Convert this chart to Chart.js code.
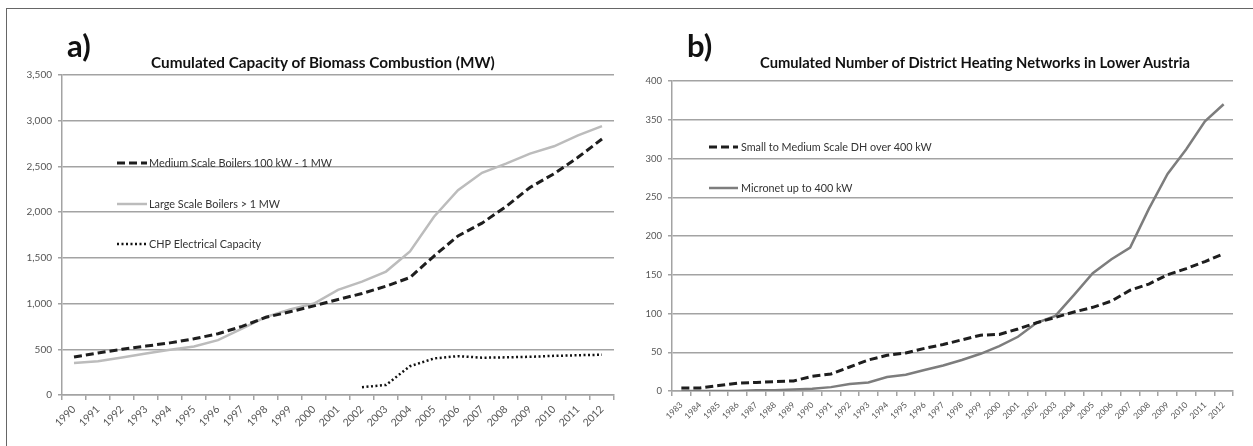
<!DOCTYPE html>
<html><head><meta charset="utf-8">
<script src="https://cdn.jsdelivr.net/npm/chart.js@4"></script>
<style>
html,body{margin:0;padding:0;background:#fff;width:1253px;height:446px;overflow:hidden;position:relative;}
#frame{position:absolute;left:6px;top:8px;width:1300px;height:500px;border:1.5px solid #666;box-sizing:border-box;}
.lbl{position:absolute;font-family:Lato,"Open Sans",sans-serif;font-weight:bold;color:#111;white-space:nowrap;line-height:1;}
canvas{position:absolute;top:0;}
</style></head><body>
<div id="frame"></div>
<canvas id="cA" width="625" height="446" style="left:0px"></canvas>
<canvas id="cB" width="628" height="446" style="left:625px"></canvas>
<div class="lbl" id="tagA" style="left:67px;top:30px;font-size:31px">a)</div>
<div class="lbl" id="titleA" style="left:151px;top:55px;font-size:14px">Cumulated Capacity of Biomass Combustion (MW)</div>
<div class="lbl" id="tagB" style="left:687px;top:30px;font-size:31px">b)</div>
<div class="lbl" id="titleB" style="left:760px;top:55px;font-size:14px">Cumulated Number of District Heating Networks in Lower Austria</div>
<script>
// ---- data: chart a ----
const yearsA = ['1990','1991','1992','1993','1994','1995','1996','1997','1998','1999','2000','2001','2002','2003','2004','2005','2006','2007','2008','2009','2010','2011','2012'];
const mediumBoilers = [415,460,500,535,570,615,670,750,850,910,975,1045,1110,1190,1285,1520,1740,1880,2060,2270,2420,2600,2800];
const largeBoilers  = [350,370,410,455,495,530,600,725,855,935,1000,1150,1240,1350,1570,1950,2240,2430,2530,2640,2720,2840,2940];
const chpCapacity   = [null,null,null,null,null,null,null,null,null,null,null,null,85,110,315,400,425,408,412,418,428,435,440];
const yTicksA = [0,500,1000,1500,2000,2500,3000,3500];
// ---- data: chart b ----
const yearsB = ['1983','1984','1985','1986','1987','1988','1989','1990','1991','1992','1993','1994','1995','1996','1997','1998','1999','2000','2001','2002','2003','2004','2005','2006','2007','2008','2009','2010','2011','2012'];
const smallMediumDH = [4,4,7,10,11,12,13,19,22,31,40,46,49,55,60,66,72,73,80,88,95,102,108,116,130,138,150,158,167,177];
const micronet      = [0,0,0,0,1,1,2,3,5,9,11,18,21,27,33,40,48,58,70,88,97,124,152,170,185,235,280,312,348,370];
const yTicksB = [0,50,100,150,200,250,300,350,400];

const FONT = 'Lato, "Open Sans", sans-serif';
const GRID = '#a3a3a3';

// fit title widths to the reference
function fitWidth(id, target){
  const el = document.getElementById(id);
  const s = parseFloat(el.style.fontSize);
  const w = el.getBoundingClientRect().width;
  if (w > 0) el.style.fontSize = (s*target/w).toFixed(2)+'px';
}
fitWidth('titleA', 344);
fitWidth('titleB', 430);

const inlineLegend = {
  id:'inlineLegend',
  afterDraw(chart, args, o){
    const ctx = chart.ctx;
    ctx.save();
    ctx.font = '10px '+FONT;
    const w0 = ctx.measureText(chart.data.datasets[0].label).width;
    const size = 10*o.fitWidth/w0;
    chart.data.datasets.forEach((ds,i)=>{
      const y = o.rows[i];
      ctx.strokeStyle = ds.borderColor; ctx.lineWidth = ds.borderWidth;
      ctx.setLineDash(ds.borderDash || []);
      ctx.beginPath(); ctx.moveTo(o.x0,y); ctx.lineTo(o.x1,y); ctx.stroke();
      ctx.setLineDash([]);
      ctx.fillStyle = '#333'; ctx.font = size.toFixed(2)+'px '+FONT; ctx.textBaseline = 'middle';
      ctx.fillText(ds.label, o.tx, y+0.5);
    });
    ctx.restore();
  }
};

function makeChart(id, labels, datasets, ticks, cfg){
  return new Chart(document.getElementById(id), {
    type:'line',
    data:{labels, datasets},
    plugins:[inlineLegend],
    options:{
      responsive:false, animation:false, devicePixelRatio:1,
      layout:{padding:{left:0,right:cfg.padRight,top:cfg.padTop,bottom:0}},
      elements:{point:{radius:0},line:{tension:0,borderCapStyle:'butt'}},
      plugins:{legend:{display:false},title:{display:false},tooltip:{enabled:false},
        inlineLegend:cfg.legend},
      scales:{
        x:{offset:true,
           grid:{display:true,drawOnChartArea:false,drawTicks:true,tickLength:5,color:GRID,lineWidth:1.5,offset:true},
           border:{display:true,color:GRID,width:1.5},
           ticks:{autoSkip:false,minRotation:45,maxRotation:45,padding:cfg.xPad,color:'#555',font:{family:FONT,size:cfg.xFont}},
           afterFit(s){s.height = cfg.xHeight;}
        },
        y:{min:0,max:ticks[ticks.length-1],
           afterBuildTicks(s){s.ticks = ticks.map(v=>({value:v}));},
           grid:{color:GRID,lineWidth:1.5,tickLength:4,drawTicks:true},
           border:{display:true,color:GRID,width:1.5},
           ticks:{padding:6,color:'#555',font:{family:FONT,size:cfg.yFont},
             callback:v=>v.toLocaleString('en-US')},
           afterFit(s){s.width = cfg.yWidth;}
        }
      }
    }
  });
}

makeChart('cA', yearsA, [
  {label:'Medium Scale Boilers 100 kW - 1 MW', data:mediumBoilers, borderColor:'#1e1e1e', borderWidth:3, borderDash:[8,4], fill:false},
  {label:'Large Scale Boilers > 1 MW', data:largeBoilers, borderColor:'#bcbcbc', borderWidth:2.5, fill:false},
  {label:'CHP Electrical Capacity', data:chpCapacity, borderColor:'#111', borderWidth:2.5, borderDash:[2,2.5], fill:false, spanGaps:false}
], yTicksA, {padRight:11, padTop:75, xHeight:51, yWidth:62, xFont:10.5, yFont:10, xPad:3,
  legend:{x0:117,x1:147,tx:149,rows:[163,204,244],fitWidth:183}});

makeChart('cB', yearsB, [
  {label:'Small to Medium Scale DH over 400 kW', data:smallMediumDH, borderColor:'#1e1e1e', borderWidth:3, borderDash:[8,4], fill:false},
  {label:'Micronet up to 400 kW', data:micronet, borderColor:'#7d7d7d', borderWidth:2.5, fill:false}
], yTicksB, {padRight:20, padTop:81, xHeight:55, yWidth:47, xFont:8.5, yFont:9.5, xPad:4,
  legend:{x0:84,x1:113,tx:116,rows:[147,188],fitWidth:191}});
</script>
</body></html>
